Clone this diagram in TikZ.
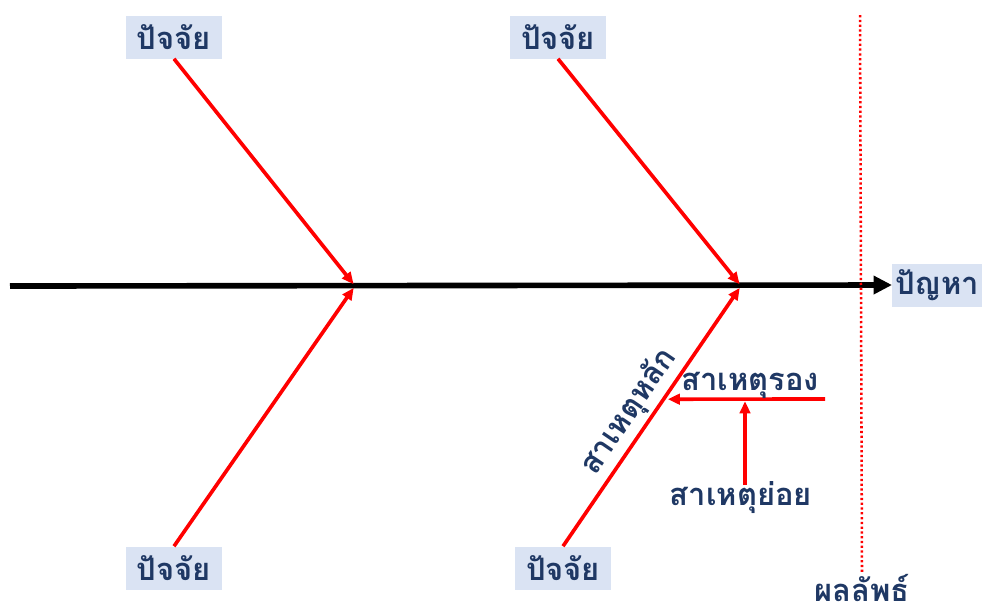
\documentclass[tikz,border=0pt]{standalone}
\usepackage{fontspec}
\newfontfamily\thaifont[Script=Thai]{Loma}
\usetikzlibrary{arrows.meta,calc}
\definecolor{boxblue}{RGB}{218,227,243}
\definecolor{textnavy}{RGB}{31,56,100}
\definecolor{bonered}{RGB}{255,0,0}
\tikzset{
  spine/.style={black,line width=4pt,-{Triangle[length=4.6mm,width=4.4mm]}},
  bone/.style={bonered,line width=2.6pt,-{Triangle[length=3mm,width=2.6mm]},
               shorten >=1.6pt},
  outline/.style={bonered,line width=1.8pt,dash pattern=on 1.6pt off 1.8pt},
  factor/.style={fill=boxblue,text=textnavy,minimum width=2.375cm,minimum height=1.075cm,
                 inner sep=2pt,font=\thaifont\bfseries\fontsize{22}{26}\selectfont},
  cause/.style={text=textnavy,inner sep=1pt,font=\thaifont\bfseries\fontsize{22}{26}\selectfont},
}
\begin{document}
\begin{tikzpicture}[x=0.025cm,y=-0.025cm]
  \path[use as bounding box] (0,0) rectangle (983,608);
  \node[factor] (f1) at (174,37) {ปัจจัย};
  \node[factor] (f2) at (558,37) {ปัจจัย};
  \node[factor] (f3) at (174,568) {ปัจจัย};
  \node[factor] (f4) at (563,568) {ปัจจัย};
  \node[factor,minimum width=2.15cm] (problem) at (937,285) {ปัญหา};

  \coordinate (tail) at (10,286);
  \coordinate (j1) at (355,286);
  \coordinate (j2) at (741,286);
  \draw[spine] (tail) -- (problem.west);

  \draw[bone] (f1.south) -- (j1);
  \draw[bone] (f2.south) -- (j2);
  \draw[bone] (f3.north) -- (j1);
  \draw[bone] (f4.north) -- node[cause,sloped,above=1pt,pos=0.47] (mainlbl) {สาเหตุหลัก} (j2);

  \coordinate (s0) at (825,399);
  \coordinate (s1) at ($(f4.north)!0.565!(j2)$);
  \draw[bone,shorten >=3pt] (s0) -- (s1);
  \node[cause] (second) at (750,385) {สาเหตุรอง};

  \coordinate (u0) at (745,485);
  \draw[bone] (u0) -- (u0 |- s0);
  \node[cause] (sub) at (741,498) {สาเหตุย่อย};

  \coordinate (rtop) at (860,15);
  \node[cause] (outcome) at (862,588) {ผลลัพธ์};
  \draw[outline] (rtop) -- (outcome.north);
\end{tikzpicture}
\end{document}
